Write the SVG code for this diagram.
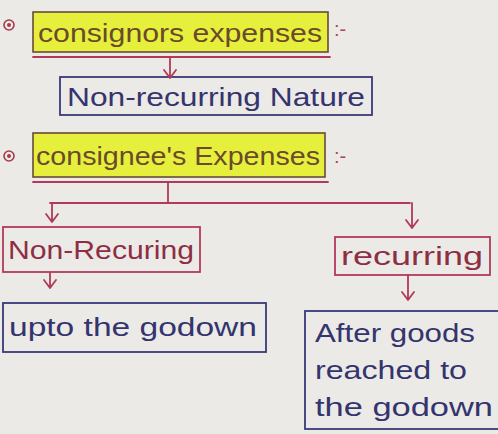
<svg xmlns="http://www.w3.org/2000/svg" width="498" height="434" viewBox="0 0 498 434">
<defs>
<style>
.t{font-family:"Liberation Sans","DejaVu Sans",sans-serif;font-size:26px}
.hl{fill:#e6f03c;stroke:#6a4a3a;stroke-width:1.6}
.hlt{fill:#6a4a2a}
.navy{fill:none;stroke:#3a3a78;stroke-width:1.8}
.navyt{fill:#34346e}
.red{fill:none;stroke:#b23a5a;stroke-width:1.8}
.redt{fill:#8e2e44}
.c{fill:none;stroke:#b03a58;stroke-width:1.8;stroke-linecap:round;stroke-linejoin:round}
.bul{fill:none;stroke:#a83a4a;stroke-width:1.6}
</style>
</defs>
<rect width="498" height="434" fill="#ebeae6"/>

<g id="bullet1"><circle cx="9" cy="25" r="5" class="bul"/><circle cx="9" cy="25" r="2" fill="#a83a4a"/></g>
<g id="consignors">
<rect x="33" y="12" width="295" height="40" class="hl"/>
<text x="38" y="42" class="t hlt" textLength="284" lengthAdjust="spacingAndGlyphs">consignors expenses</text>
<text x="334" y="36" class="t" style="font-size:20px" fill="#a84a5a">:-</text>
</g>

<g id="nonrecurring-nature">
<rect x="60" y="77" width="312" height="38" class="navy"/>
<text x="67" y="106" class="t navyt" textLength="298" lengthAdjust="spacingAndGlyphs">Non-recurring Nature</text>
</g>

<g id="bullet2"><circle cx="9" cy="156" r="5" class="bul"/><circle cx="9" cy="156" r="2" fill="#a83a4a"/></g>
<g id="consignees">
<rect x="33" y="133" width="292" height="44" class="hl"/>
<text x="36" y="165" class="t hlt" textLength="284" lengthAdjust="spacingAndGlyphs">consignee's Expenses</text>
<text x="334" y="163" class="t" style="font-size:20px" fill="#a84a5a">:-</text>
</g>

<g id="nonrecuring">
<rect x="3" y="227" width="197" height="45" class="red"/>
<text x="8" y="259" class="t redt" textLength="186" lengthAdjust="spacingAndGlyphs">Non-Recuring</text>
</g>

<g id="recurring">
<rect x="335" y="237" width="155" height="38" class="red"/>
<text x="341" y="265" class="t redt" textLength="142" lengthAdjust="spacingAndGlyphs">recurring</text>
</g>

<g id="upto">
<rect x="3" y="303" width="263" height="49" class="navy"/>
<text x="9" y="336" class="t navyt" textLength="248" lengthAdjust="spacingAndGlyphs">upto the godown</text>
</g>

<g id="after">
<rect x="305" y="311" width="196" height="118" class="navy"/>
<text x="315" y="342" class="t navyt" textLength="160" lengthAdjust="spacingAndGlyphs">After goods</text>
<text x="315" y="379" class="t navyt" textLength="152" lengthAdjust="spacingAndGlyphs">reached to</text>
<text x="315" y="416" class="t navyt" textLength="178" lengthAdjust="spacingAndGlyphs">the godown</text>
</g>

<g id="connectors">
<path class="c" d="M33 57 H330"/>
<path class="c" d="M170 57 V78 M164 70 L170 78 L176 70"/>
<path class="c" d="M33 182 H328"/>
<path class="c" d="M168 182 V203 M50 203 H410 M52 203 V222 M46 214 L52 222 L58 214 M412 203 V228 M406 220 L412 228 L418 220"/>
<path class="c" d="M50 273 V288 M44 280 L50 288 L56 280"/>
<path class="c" d="M408 275 V300 M402 292 L408 300 L414 292"/>
</g>
</svg>
